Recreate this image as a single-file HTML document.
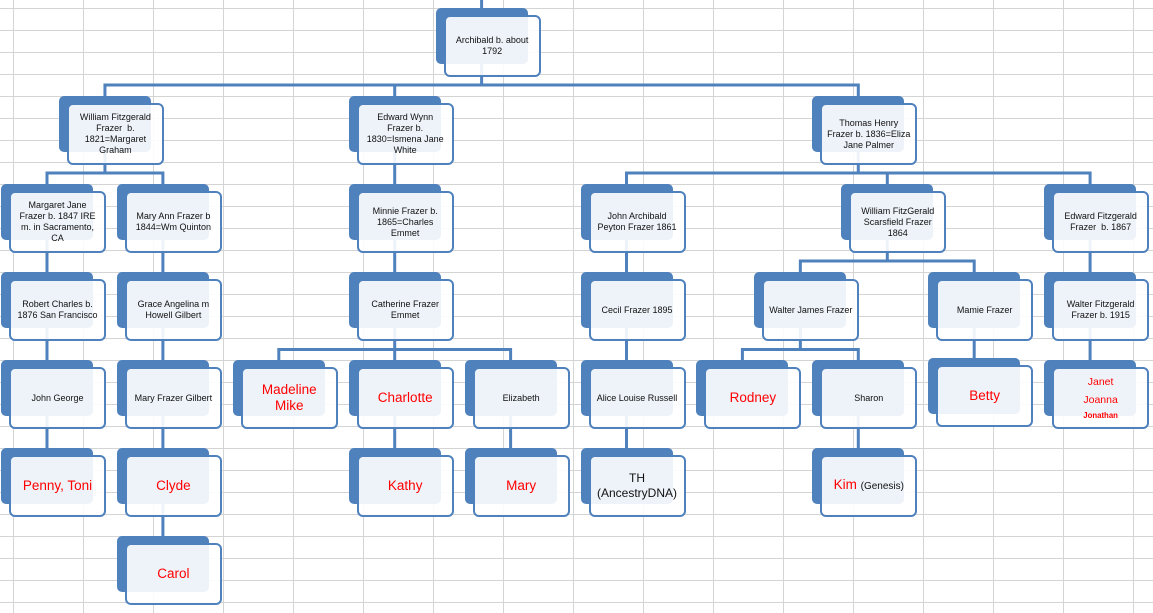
<!DOCTYPE html>
<html><head><meta charset="utf-8"><style>
html,body{margin:0;padding:0;background:#fff;}
#c{position:relative;width:1153px;height:613px;overflow:hidden;background:#fff;font-family:"Liberation Sans",Arial,sans-serif;}
svg{position:absolute;left:0;top:0;}
.n{position:absolute;width:106px;height:70px;}
.b{position:absolute;left:0;top:0;width:92px;height:56px;background:#4f81bd;border-radius:5px;}
.f{position:absolute;left:8px;top:7px;width:97px;height:62px;box-sizing:border-box;border:2.5px solid #4f81bd;border-radius:6px;background:rgba(255,255,255,0.9);display:flex;align-items:center;justify-content:center;text-align:center;}
.t{font-size:9px;line-height:11px;color:#111;white-space:nowrap;}
.r{font-size:13.5px;line-height:16px;color:#ff0000;white-space:nowrap;}
</style></head><body><div id="c">
<svg width="1153" height="613" viewBox="0 0 1153 613">
<g stroke="#d4d4d4" stroke-width="1" shape-rendering="crispEdges">
<path d="M13.5 0V613M83.5 0V613M153.5 0V613M223.5 0V613M293.5 0V613M363.5 0V613M433.5 0V613M503.5 0V613M573.5 0V613M643.5 0V613M713.5 0V613M783.5 0V613M853.5 0V613M923.5 0V613M993.5 0V613M1063.5 0V613M1133.5 0V613"/>
<path d="M0 8.5H1153M0 30.5H1153M0 52.5H1153M0 74.5H1153M0 96.5H1153M0 118.5H1153M0 140.5H1153M0 162.5H1153M0 184.5H1153M0 206.5H1153M0 228.5H1153M0 250.5H1153M0 272.5H1153M0 294.5H1153M0 316.5H1153M0 338.5H1153M0 360.5H1153M0 382.5H1153M0 404.5H1153M0 426.5H1153M0 448.5H1153M0 470.5H1153M0 492.5H1153M0 514.5H1153M0 536.5H1153M0 558.5H1153M0 580.5H1153M0 602.5H1153"/>
</g>
<g stroke="#4f81bd" stroke-width="3" fill="none" stroke-linecap="square" stroke-linejoin="miter">
<path d="M481.6 0V8"/>
<path d="M481.6 64V85"/>
<path d="M104.95 96V85H858.3V96"/>
<path d="M394.7 85V96"/>
<path d="M104.95 152V173"/>
<path d="M47 184V173H162.9V184"/>
<path d="M394.7 152V184"/>
<path d="M858.3 152V173"/>
<path d="M626.5 184V173H1090.1V184"/>
<path d="M887.3 173V184"/>
<path d="M47 240V272M162.9 240V272M394.7 240V272M626.5 240V272M1090.1 240V272"/>
<path d="M887.3 240V261"/>
<path d="M800.35 272V261H974.2V272"/>
<path d="M47 328V360M162.9 328V360M626.5 328V360M974.2 328V358M1090.1 328V360"/>
<path d="M394.7 328V349.5"/>
<path d="M278.8 360V349.5H510.6V360"/>
<path d="M394.7 349.5V360"/>
<path d="M800.35 328V349.5"/>
<path d="M742.4 360V349.5H858.3V360"/>
<path d="M47 416V448M162.9 416V448M394.7 416V448M510.6 416V448M626.5 416V448M858.3 416V448"/>
<path d="M162.9 504V536"/>
</g>
</svg>

<!-- Row 0 -->
<div class="n" style="left:435.6px;top:8px"><div class="b"></div><div class="f"><div class="t">Archibald b. about<br>1792</div></div></div>

<!-- Row 1 -->
<div class="n" style="left:58.95px;top:96px"><div class="b"></div><div class="f"><div class="t">William Fitzgerald<br>Frazer&nbsp; b.<br>1821=Margaret<br>Graham</div></div></div>
<div class="n" style="left:348.7px;top:96px"><div class="b"></div><div class="f"><div class="t">Edward Wynn<br>Frazer b.<br>1830=Ismena Jane<br>White</div></div></div>
<div class="n" style="left:812.3px;top:96px"><div class="b"></div><div class="f"><div class="t">Thomas Henry<br>Frazer b. 1836=Eliza<br>Jane Palmer</div></div></div>

<!-- Row 2 -->
<div class="n" style="left:1px;top:184px"><div class="b"></div><div class="f"><div class="t">Margaret Jane<br>Frazer b. 1847 IRE<br>m. in Sacramento,<br>CA</div></div></div>
<div class="n" style="left:116.9px;top:184px"><div class="b"></div><div class="f"><div class="t">Mary Ann Frazer b<br>1844=Wm Quinton</div></div></div>
<div class="n" style="left:348.7px;top:184px"><div class="b"></div><div class="f"><div class="t">Minnie Frazer b.<br>1865=Charles<br>Emmet</div></div></div>
<div class="n" style="left:580.5px;top:184px"><div class="b"></div><div class="f"><div class="t">John Archibald<br>Peyton Frazer 1861</div></div></div>
<div class="n" style="left:841.3px;top:184px"><div class="b"></div><div class="f"><div class="t">William FitzGerald<br>Scarsfield Frazer<br>1864</div></div></div>
<div class="n" style="left:1044.1px;top:184px"><div class="b"></div><div class="f"><div class="t">Edward Fitzgerald<br>Frazer&nbsp; b. 1867</div></div></div>

<!-- Row 3 -->
<div class="n" style="left:1px;top:272px"><div class="b"></div><div class="f"><div class="t">Robert Charles b.<br>1876 San Francisco</div></div></div>
<div class="n" style="left:116.9px;top:272px"><div class="b"></div><div class="f"><div class="t">Grace Angelina m<br>Howell Gilbert</div></div></div>
<div class="n" style="left:348.7px;top:272px"><div class="b"></div><div class="f"><div class="t">Catherine Frazer<br>Emmet</div></div></div>
<div class="n" style="left:580.5px;top:272px"><div class="b"></div><div class="f"><div class="t">Cecil Frazer 1895</div></div></div>
<div class="n" style="left:754.35px;top:272px"><div class="b"></div><div class="f"><div class="t">Walter James Frazer</div></div></div>
<div class="n" style="left:928.2px;top:272px"><div class="b"></div><div class="f"><div class="t">Mamie Frazer</div></div></div>
<div class="n" style="left:1044.1px;top:272px"><div class="b"></div><div class="f"><div class="t">Walter Fitzgerald<br>Frazer b. 1915</div></div></div>

<!-- Row 4 -->
<div class="n" style="left:1px;top:360px"><div class="b"></div><div class="f"><div class="t">John George</div></div></div>
<div class="n" style="left:116.9px;top:360px"><div class="b"></div><div class="f"><div class="t">Mary Frazer Gilbert</div></div></div>
<div class="n" style="left:232.8px;top:360px"><div class="b"></div><div class="f"><div class="r">Madeline<br>Mike</div></div></div>
<div class="n" style="left:348.7px;top:360px"><div class="b"></div><div class="f"><div class="r">Charlotte</div></div></div>
<div class="n" style="left:464.6px;top:360px"><div class="b"></div><div class="f"><div class="t">Elizabeth</div></div></div>
<div class="n" style="left:580.5px;top:360px"><div class="b"></div><div class="f"><div class="t">Alice Louise Russell</div></div></div>
<div class="n" style="left:696.4px;top:360px"><div class="b"></div><div class="f"><div class="r">Rodney</div></div></div>
<div class="n" style="left:812.3px;top:360px"><div class="b"></div><div class="f"><div class="t">Sharon</div></div></div>
<div class="n" style="left:928.2px;top:358px"><div class="b"></div><div class="f"><div class="r">Betty</div></div></div>
<div class="n" style="left:1044.1px;top:360px"><div class="b"></div><div class="f"><div style="text-align:center;color:#ff0000;white-space:nowrap;">
<div style="font-size:10.5px;line-height:17px;">Janet</div>
<div style="font-size:10.5px;line-height:18px;">Joanna</div>
<div style="font-size:7.8px;line-height:13px;font-weight:bold;">Jonathan</div>
</div></div></div>

<!-- Row 5 -->
<div class="n" style="left:1px;top:448px"><div class="b"></div><div class="f"><div class="r">Penny, Toni</div></div></div>
<div class="n" style="left:116.9px;top:448px"><div class="b"></div><div class="f"><div class="r">Clyde</div></div></div>
<div class="n" style="left:348.7px;top:448px"><div class="b"></div><div class="f"><div class="r">Kathy</div></div></div>
<div class="n" style="left:464.6px;top:448px"><div class="b"></div><div class="f"><div class="r">Mary</div></div></div>
<div class="n" style="left:580.5px;top:448px"><div class="b"></div><div class="f"><div class="t" style="font-size:12px;line-height:15.5px;">TH<br>(AncestryDNA)</div></div></div>
<div class="n" style="left:812.3px;top:448px"><div class="b"></div><div class="f"><div class="r">Kim <span style="font-size:10px;color:#111;">(Genesis)</span></div></div></div>

<!-- Row 6 -->
<div class="n" style="left:116.9px;top:536px"><div class="b"></div><div class="f"><div class="r">Carol</div></div></div>

</div></body></html>
